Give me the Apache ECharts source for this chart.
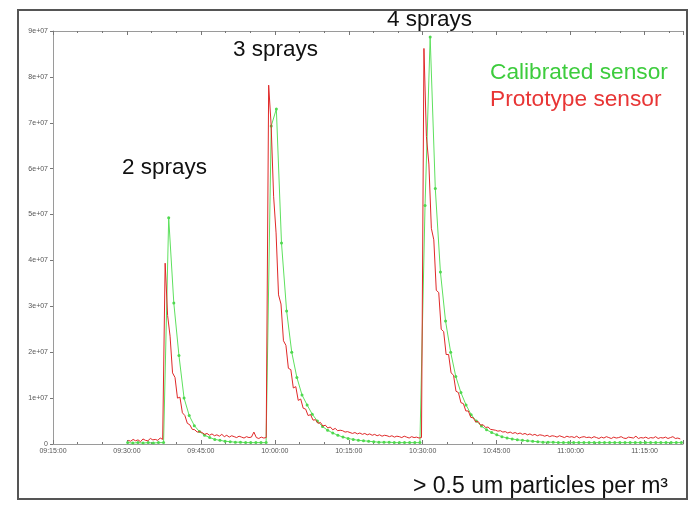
<!DOCTYPE html>
<html>
<head>
<meta charset="utf-8">
<script src="https://cdn.jsdelivr.net/npm/echarts@6/dist/echarts.min.js"></script>
<style>html,body{margin:0;padding:0;background:#fff}#c{width:690px;height:505px}</style>
</head>
<body>
<div id="c"></div>
<script>
// x axis: minutes after 09:15:00
const axisStart = '09:15:00';
const xMin = 0, xMax = 127.8, xInterval = 15;
const yTicks = ['0','1e+07','2e+07','3e+07','4e+07','5e+07','6e+07','7e+07','8e+07','9e+07'];
const yUnit = 1e7;

// Calibrated sensor (values in units of 1e7 particles/m3), sampled every 62.4 s from 09:30:09
const greenStartMin = 15.15;
const greenStepMin = 1.04;
const greenValues = [
  0.03,0.02,0.03,0.02,0.03,0.02,0.03,0.03,
  4.93,3.07,1.93,1.00,0.62,0.40,0.27,0.19,0.14,0.10,
  0.08,0.06,0.05,0.04,0.04,0.03,0.03,0.03,0.03,0.03,
  6.93,7.30,4.38,2.90,2.00,1.45,1.07,0.85,0.65,0.50,
  0.38,0.30,0.24,0.19,0.15,0.12,0.10,0.08,0.07,0.06,
  0.05,0.04,0.04,0.04,0.03,0.03,0.03,0.03,0.03,0.03,
  5.20,8.87,5.57,3.75,2.68,2.00,1.47,1.12,0.85,0.64,
  0.50,0.39,0.31,0.25,0.20,0.16,0.13,0.11,0.09,0.08,
  0.07,0.06,0.05,0.04,0.04,0.04,0.03,0.03,0.03,0.03,
  0.03,0.03,0.03,0.03,0.03,0.03,0.03,0.03,0.03,0.03,
  0.03,0.03,0.03,0.03,0.03,0.03,0.03,0.03,0.03,0.03,0.03
];

// Prototype sensor (values in units of 1e7), sampled every 30 s from 09:30:15
const redStartMin = 15.25;
const redStepMin = 0.5;
const redValues = [
  0.08,0.06,0.10,0.07,0.09,0.05,0.11,0.08,0.07,0.12,
  0.09,0.10,0.08,0.13,0.10,3.94,2.80,2.35,1.55,1.45,
  1.00,1.02,0.68,0.62,0.45,0.42,0.32,0.31,0.26,0.27,
  0.25,0.21,0.23,0.19,0.22,0.18,0.20,0.17,0.21,0.16,
  0.19,0.15,0.18,0.16,0.14,0.17,0.15,0.13,0.16,0.14,
  0.15,0.26,0.14,0.12,0.15,0.13,0.14,
  7.82,6.95,5.40,4.60,3.25,3.05,2.25,2.15,1.65,1.62,
  1.22,1.25,0.95,0.98,0.78,0.76,0.62,0.64,0.52,0.53,
  0.45,0.47,0.39,0.41,0.35,0.37,0.31,0.34,0.29,0.30,
  0.29,0.26,0.27,0.25,0.23,0.25,0.22,0.24,0.21,0.23,
  0.20,0.22,0.19,0.21,0.18,0.20,0.17,0.19,0.18,0.16,
  0.18,0.15,0.17,0.16,0.14,0.17,0.15,0.13,0.16,0.14,0.15,0.13,0.14,
  8.62,6.70,6.10,4.70,4.45,3.35,3.30,2.50,2.45,1.95,
  1.95,1.55,1.50,1.15,1.12,0.90,0.88,0.72,0.72,0.58,
  0.57,0.48,0.49,0.41,0.42,0.36,0.37,0.32,0.31,0.30,
  0.28,0.29,0.26,0.27,0.24,0.26,0.23,0.25,0.22,0.24,
  0.21,0.23,0.20,0.22,0.19,0.21,0.18,0.20,0.19,0.17,
  0.19,0.16,0.18,0.17,0.15,0.18,0.16,0.14,0.17,0.15,
  0.16,0.14,0.17,0.13,0.15,0.16,0.14,0.15,0.13,0.16,
  0.14,0.12,0.15,0.13,0.16,0.14,0.12,0.15,0.13,0.14,
  0.16,0.13,0.12,0.15,0.14,0.13,0.17,0.12,0.14,0.13,
  0.15,0.12,0.14,0.13,0.16,0.12,0.14,0.13,0.15,0.12,
  0.14,0.16,0.12,0.13,0.11
];

const annotations = ['2 sprays','3 sprays','4 sprays'];
const legendLabels = ['Calibrated sensor','Prototype sensor'];
const caption = '> 0.5 um particles per m\u00B3';

function fmtTime(m){
  const p = axisStart.split(':').map(Number);
  let t = Math.round(p[0]*3600 + p[1]*60 + p[2] + m*60);
  const h = Math.floor(t/3600), mi = Math.floor((t%3600)/60), s = t%60;
  const z = n => (n<10?'0':'')+n;
  return z(h)+':'+z(mi)+':'+z(s);
}
const greenData = greenValues.map((v,i)=>[greenStartMin + i*greenStepMin, v*yUnit]);
const redData = redValues.map((v,i)=>[redStartMin + i*redStepMin, v*yUnit]);

const FONT = '"Liberation Sans", Arial, sans-serif';
const chart = echarts.init(document.getElementById('c'), null, {renderer:'canvas'});
const axisGray = '#9a9a9a';
chart.setOption({
  animation:false,
  backgroundColor:'#fff',
  grid:{left:53, top:31, right:7, bottom:61},
  xAxis:[{
    type:'value', min:xMin, max:xMax, interval:xInterval,
    axisLine:{lineStyle:{color:axisGray, width:1}},
    axisTick:{inside:true, length:4, lineStyle:{color:'#777'}},
    minorTick:{show:true, splitNumber:3, length:2, lineStyle:{color:'#777'}},
    splitLine:{show:false},
    axisLabel:{fontSize:7, color:'#555', fontFamily:FONT, margin:4, formatter:v=>fmtTime(v), showMaxLabel:false}
  },{
    type:'value', position:'top', min:xMin, max:xMax, interval:xInterval,
    axisLine:{show:true, lineStyle:{color:axisGray, width:1}},
    axisTick:{inside:true, length:4, lineStyle:{color:'#777'}},
    minorTick:{show:true, splitNumber:3, length:2, lineStyle:{color:'#777'}},
    splitLine:{show:false}, axisLabel:{show:false}
  }],
  yAxis:{
    type:'value', min:0, max:9*yUnit, interval:yUnit,
    axisLine:{show:true, lineStyle:{color:axisGray, width:1}},
    axisTick:{show:true, length:3, lineStyle:{color:'#777'}},
    splitLine:{show:false},
    axisLabel:{fontSize:7, color:'#555', fontFamily:FONT, margin:5, formatter:(v)=>yTicks[Math.round(v/yUnit)]}
  },
  series:[{
    name:legendLabels[0], type:'line', data:greenData,
    symbol:'circle', symbolSize:3, showSymbol:true,
    itemStyle:{color:'#4fd84f'}, lineStyle:{color:'#5ee05e', width:1}, z:2
  },{
    name:legendLabels[1], type:'line', data:redData,
    symbol:'none', lineStyle:{color:'#e02828', width:1}, z:3
  }],
  graphic:[
    {type:'rect', shape:{x:18, y:10, width:669, height:489}, style:{fill:'none', stroke:'#555', lineWidth:2}, z:100},
    {type:'text', left:122, top:156, style:{text:annotations[0], font:'22.5px '+FONT, fill:'#111'}},
    {type:'text', left:233, top:38, style:{text:annotations[1], font:'22.5px '+FONT, fill:'#111'}},
    {type:'text', left:387, top:8, style:{text:annotations[2], font:'22.5px '+FONT, fill:'#111'}},
    {type:'text', left:490, top:61, style:{text:legendLabels[0], font:'22.7px '+FONT, fill:'#3dcc3d'}},
    {type:'text', left:490, top:88, style:{text:legendLabels[1], font:'22.7px '+FONT, fill:'#e83535'}},
    {type:'text', left:413, top:475, style:{text:caption, font:'23px '+FONT, fill:'#111'}}
  ]
});
</script>
</body>
</html>
